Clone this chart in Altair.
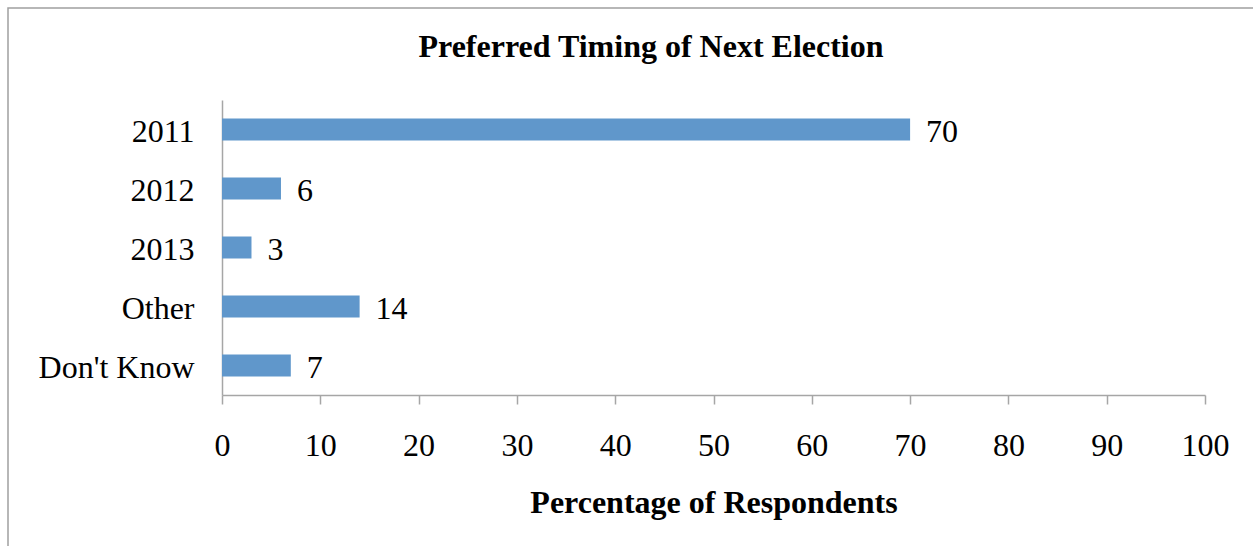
import altair as alt
import pandas as pd

categories = ["2011", "2012", "2013", "Other", "Don't Know"]
values = [70, 6, 3, 14, 7]
x_ticks = [0, 10, 20, 30, 40, 50, 60, 70, 80, 90, 100]

df = pd.DataFrame({"cat": categories, "val": values})
FONT = "Liberation Serif"
GRAY = "#A6A6A6"
FS = 32

base = alt.Chart(df)

border = alt.Chart(pd.DataFrame({"a": [0]})).mark_rect(
    fill=None, stroke="#A0A0A0", strokeWidth=1.5
).encode(
    x=alt.value(-214), x2=alt.value(1100),
    y=alt.value(-92), y2=alt.value(500)
)

title = alt.Chart(pd.DataFrame({"t": ["Preferred Timing of Next Election"]})).mark_text(
    font=FONT, fontSize=FS, fontWeight="bold", color="black",
    align="center", baseline="middle"
).encode(x=alt.value(429), y=alt.value(-53), text="t:N")

bars = base.mark_bar(color="#6097CB", size=22).encode(
    x=alt.X("val:Q", scale=alt.Scale(domain=[0, 100], nice=False),
            axis=alt.Axis(values=x_ticks, title="Percentage of Respondents",
                          grid=False, domainColor=GRAY, tickColor=GRAY,
                          tickSize=9, domainWidth=1.5, tickWidth=1.5,
                          labelFlush=False,
                          labelFont=FONT, labelFontSize=FS, labelColor="black",
                          labelPadding=26, titleFont=FONT, titleFontSize=FS,
                          titleFontWeight="bold", titleColor="black",
                          titlePadding=26)),
    y=alt.Y("cat:N", sort=categories, scale=alt.Scale(paddingInner=0.6, paddingOuter=0.3),
            axis=alt.Axis(title=None, ticks=False, domainColor=GRAY, domainWidth=1.5,
                          labelFont=FONT, labelFontSize=FS, labelColor="black",
                          labelPadding=28, labelOffset=2))
)

labels = base.mark_text(align="left", baseline="middle", dx=16, dy=2, font=FONT,
                        fontSize=FS, color="black").encode(
    x="val:Q", y=alt.Y("cat:N", sort=categories), text="val:Q"
)

chart = alt.layer(border, title, bars, labels).properties(
    width=983, height=295,
    autosize=alt.AutoSizeParams(type="none"),
    padding={"left": 222, "top": 100, "right": 48, "bottom": 151},
).configure_view(stroke=None)

chart.save("out.html", embed_options={"renderer": "svg", "actions": False})
